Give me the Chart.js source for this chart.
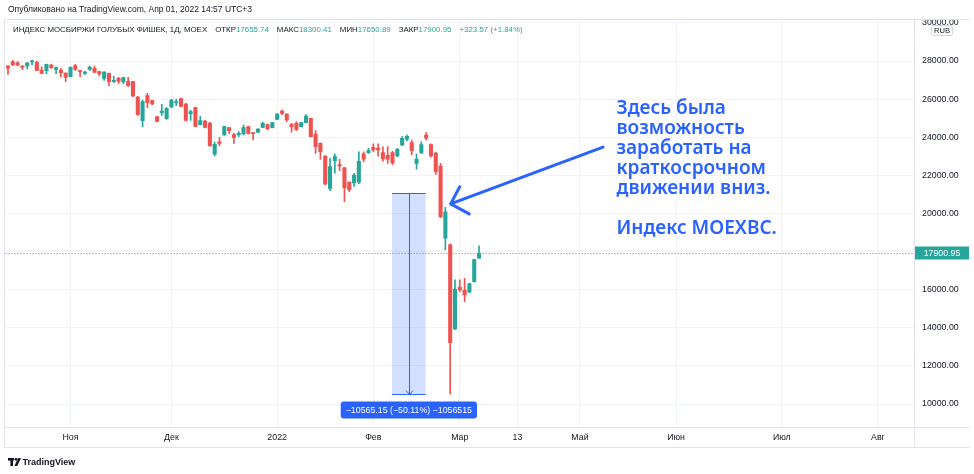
<!DOCTYPE html>
<html lang="ru">
<head>
<meta charset="utf-8">
<title>MOEXBC, 1Д</title>
<script src="https://cdn.jsdelivr.net/npm/chart.js@4.4.1/dist/chart.umd.min.js"></script>
<style>
  html, body { margin: 0; padding: 0; background: #ffffff; overflow: hidden; }
  #box { width: 974px; height: 474px; }
</style>
</head>
<body>
<div id="box"><canvas id="chart" width="974" height="474"></canvas></div>
<script>
// Daily candles of the MOEX Blue Chip index (MOEXBC), Oct 2021 – 1 Apr 2022
const openP = [
  27740, 27960, 27910, 27740, 27740, 27950, 27930, 27530, 27495, 27790,
  27565, 27530, 27370, 27180, 27755, 27495, 27355, 27565, 27615, 27440,
  27090, 27355, 26915, 27090, 26900, 26935, 26915, 26110, 24870, 26180,
  25920, 25065, 25290, 24975, 25585, 25815, 26025, 25745, 25220, 25550,
  24660, 24850, 24745, 23105, 23765, 24115, 24500, 24135, 24135, 24170,
  24555, 24220, 24260, 24520, 24660, 24500, 24940, 25375, 25220, 24695,
  24730, 24555, 24765, 24995, 24170, 23680, 23015, 21320, 22770, 22560,
  22400, 21640, 21600, 21640, 23130, 23190, 23470, 23435, 23190, 23050,
  23190, 23015, 23590, 23900, 23715, 22620, 23170, 24115, 23620, 23160,
  22490, 18700, 18350, 13940, 16125, 15985, 15865, 16420, 17655.74
];
const highP = [
  27760, 28035, 27965, 27760, 27930, 28050, 27990, 27700, 27845, 27845,
  27700, 27615, 27380, 27690, 27825, 27500, 27460, 27740, 27740, 27460,
  27440, 27360, 27215, 27145, 27160, 27145, 26935, 26145, 25955, 26305,
  25955, 25100, 25725, 25550, 25990, 25990, 26060, 25780, 25430, 25585,
  25095, 24885, 24780, 23750, 24000, 24590, 24520, 24205, 24290, 24640,
  24570, 24240, 24450, 24800, 24690, 24780, 25240, 25430, 25235, 24710,
  24815, 24780, 25185, 25010, 24345, 23700, 23040, 22895, 23120, 22840,
  22420, 21660, 22100, 23240, 23240, 23420, 23650, 23650, 23500, 23505,
  23260, 23420, 24030, 24115, 23855, 23110, 23765, 24240, 23650, 23220,
  22630, 20325, 18400, 16510, 16510, 16600, 16350, 17600, 18300.41
];
const lowP = [
  27290, 27750, 27740, 27545, 27580, 27790, 27490, 27335, 27320, 27615,
  27335, 27160, 26915, 27170, 27510, 27180, 27300, 27510, 27390, 27215,
  26985, 26700, 26865, 26810, 26810, 26670, 26130, 25150, 24535, 25550,
  25710, 24800, 25150, 24940, 25535, 25655, 25600, 24850, 24885, 24535,
  24640, 24485, 23520, 23020, 23560, 24100, 24205, 23680, 24030, 24115,
  24155, 23855, 24240, 24500, 24380, 24490, 24920, 25165, 24815, 24260,
  24345, 24540, 24760, 24010, 23155, 22840, 21495, 21195, 22110, 22245,
  20615, 21140, 21420, 21560, 22700, 23150, 23240, 23000, 22740, 22630,
  22560, 22960, 23560, 23800, 23070, 22320, 23150, 23855, 22950, 22050,
  19780, 18080, 10519.15, 13900, 15900, 15370, 15850, 16400, 17650.89
];
const closeP = [
  27630, 27790, 27790, 27670, 27895, 28015, 27510, 27355, 27825, 27650,
  27650, 27390, 27145, 27670, 27565, 27440, 27425, 27685, 27405, 27320,
  27425, 26915, 26985, 26935, 27125, 26705, 26165, 25185, 25865, 25815,
  25745, 24835, 25375, 25515, 25955, 25870, 25620, 24885, 25340, 24570,
  24870, 24520, 23555, 23630, 23680, 24555, 24345, 23975, 24205, 24500,
  24205, 24190, 24430, 24730, 24450, 24765, 25220, 25255, 24905, 24555,
  24415, 24765, 25115, 24030, 23500, 23240, 21530, 22455, 22980, 22490,
  21340, 21250, 22020, 22740, 22850, 23295, 23330, 23330, 22860, 22845,
  22650, 23370, 23945, 24045, 23295, 22850, 23620, 23945, 23015, 22190,
  19830, 20090, 13220, 16020, 15985, 15725, 16300, 17577.38, 17900.95
];

// Time scale: one slot per session, empty slots continue to the right edge
const barSlots = 189;
const timeTickAt = [13, 34, 56, 76, 94, 106, 119, 139, 161, 181];
const timeTickText = ['Ноя', 'Дек', '2022', 'Фев', 'Мар', '13', 'Май', 'Июн', 'Июл', 'Авг'];
const priceTicks = [10000, 12000, 14000, 16000, 18000, 20000, 22000, 24000, 26000, 28000, 30000];

// Price-range measurement drawn on the chart
const measure = { fromIndex: 79.9, toIndex: 86.9, top: 21084.30, bottom: 10519.15 };

// Callout
const noteLines = ['Здесь была', 'возможность', 'заработать на', 'краткосрочном', 'движении вниз.', '', 'Индекс MOEXBC.'];
const noteAt = { index: 126.6, price: 25205 };
const arrowTail = { index: 123.8, price: 23480 };
const arrowTip = { index: 92.1, price: 20500 };

const UP = '#26a69a', DOWN = '#ef5350', INK = '#131722', BLUE = '#2962ff';
const GRID = '#f0f3fa', FRAME = '#e0e3eb';
const FONT = '"Liberation Sans", Arial, sans-serif';

const idx = closeP.map((_, i) => i);
const candleColor = idx.map(i => closeP[i] >= openP[i] ? UP : DOWN);
const last = closeP.length - 1;
const lastClose = closeP[last];
const change = closeP[last] - closeP[last - 1];
const changePct = change / closeP[last - 1] * 100;

const fmt = v => v.toFixed(2);
const minus = s => s.replace('-', '\u2212');

const overlay = {
  id: 'overlay',
  beforeDraw(chart) {
    const { ctx, width, height } = chart;
    ctx.save();
    ctx.fillStyle = '#ffffff';
    ctx.fillRect(0, 0, width, height);
    ctx.restore();
  },
  beforeDatasetsDraw(chart) {
    const { ctx, chartArea: a, scales: { x, y } } = chart;
    ctx.save();
    const l = x.getPixelForValue(measure.fromIndex);
    const r = x.getPixelForValue(measure.toIndex);
    const t = Math.round(y.getPixelForValue(measure.top)) + 0.5;
    const b = Math.round(y.getPixelForValue(measure.bottom)) + 0.5;
    ctx.fillStyle = 'rgba(41, 98, 255, 0.2)';
    ctx.fillRect(l, t, r - l, b - t);
    ctx.strokeStyle = BLUE;
    ctx.lineWidth = 1;
    ctx.beginPath();
    ctx.moveTo(l, t); ctx.lineTo(r, t);
    ctx.moveTo(l, b); ctx.lineTo(r, b);
    const cx = Math.round((l + r) / 2) + 0.5;
    ctx.moveTo(cx, t); ctx.lineTo(cx, b);
    ctx.moveTo(cx - 3.5, b - 4); ctx.lineTo(cx, b); ctx.lineTo(cx + 3.5, b - 4);
    ctx.stroke();

    // last price line
    const py = Math.round(y.getPixelForValue(lastClose)) + 0.5;
    ctx.strokeStyle = UP;
    ctx.setLineDash([1, 2]);
    ctx.beginPath();
    ctx.moveTo(a.left, py); ctx.lineTo(a.right, py);
    ctx.stroke();
    ctx.restore();
  },
  afterDatasetsDraw(chart) {
    const { ctx, scales: { x, y } } = chart;
    ctx.save();
    // arrow
    const tx = x.getPixelForValue(arrowTip.index), ty = y.getPixelForValue(arrowTip.price);
    const sx = x.getPixelForValue(arrowTail.index), sy = y.getPixelForValue(arrowTail.price);
    ctx.strokeStyle = BLUE;
    ctx.lineWidth = 3;
    ctx.lineCap = 'round';
    ctx.lineJoin = 'round';
    ctx.beginPath();
    ctx.moveTo(sx, sy); ctx.lineTo(tx, ty);
    ctx.moveTo(tx + 9, ty - 17); ctx.lineTo(tx, ty); ctx.lineTo(tx + 18.5, ty + 10);
    ctx.stroke();

    // callout text
    const nx = x.getPixelForValue(noteAt.index), ny = y.getPixelForValue(noteAt.price);
    ctx.fillStyle = BLUE;
    ctx.font = '600 19px "Noto Sans", "DejaVu Sans", sans-serif';
    ctx.textAlign = 'left';
    ctx.textBaseline = 'alphabetic';
    noteLines.forEach((line, k) => { if (line) ctx.fillText(line, nx, ny + k * 19.9); });
    ctx.restore();
  },
  afterDraw(chart) {
    const { ctx, chartArea: a, scales: { x, y } } = chart;
    ctx.save();

    // frame
    ctx.strokeStyle = FRAME;
    ctx.lineWidth = 1;
    ctx.beginPath();
    ctx.moveTo(4.5, 19.5); ctx.lineTo(969.5, 19.5);
    ctx.moveTo(4.5, 19.5); ctx.lineTo(4.5, 447.5);
    ctx.moveTo(4.5, 447.5); ctx.lineTo(969.5, 447.5);
    ctx.moveTo(a.right, Math.round(a.bottom) + 0.5); ctx.lineTo(969.5, Math.round(a.bottom) + 0.5);
    ctx.moveTo(Math.round(a.right) + 0.5, a.bottom); ctx.lineTo(Math.round(a.right) + 0.5, 447.5);
    ctx.stroke();

    // last price label on the price scale
    const py = Math.round(y.getPixelForValue(lastClose));
    ctx.fillStyle = UP;
    ctx.fillRect(a.right + 1, py - 6.5, 54, 13);
    ctx.fillStyle = '#ffffff';
    ctx.font = '8.8px ' + FONT;
    ctx.textAlign = 'center';
    ctx.textBaseline = 'middle';
    ctx.fillText(fmt(lastClose), a.right + 28, py + 0.5);

    // currency badge
    ctx.fillStyle = '#ffffff';
    ctx.strokeStyle = '#d1d4dc';
    ctx.beginPath();
    ctx.roundRect(931.5, 25.5, 21, 10, 2);
    ctx.fill();
    ctx.stroke();
    ctx.fillStyle = INK;
    ctx.font = '7.6px ' + FONT;
    ctx.fillText('RUB', 942, 30.8);

    // measurement label
    const ml = x.getPixelForValue(measure.fromIndex), mr = x.getPixelForValue(measure.toIndex);
    const mb = y.getPixelForValue(measure.bottom);
    const diff = measure.bottom - measure.top;
    const mText = minus(fmt(diff)) + ' (' + minus((diff / measure.top * 100).toFixed(2)) + '%) ' + minus(String(Math.round(diff * 100)));
    ctx.font = '8.8px ' + FONT;
    const mw = ctx.measureText(mText).width + 10;
    const mcx = (ml + mr) / 2;
    ctx.fillStyle = BLUE;
    ctx.beginPath();
    ctx.roundRect(mcx - mw / 2, mb + 7.5, mw, 17, 3);
    ctx.fill();
    ctx.fillStyle = '#ffffff';
    ctx.fillText(mText, mcx, mb + 16.5);

    // header
    ctx.textAlign = 'left';
    ctx.textBaseline = 'middle';
    ctx.fillStyle = INK;
    ctx.font = '8.5px ' + FONT;
    ctx.fillText('Опубликовано на TradingView.com, Апр 01, 2022 14:57 UTC+3', 8, 10);

    // legend
    const parts = [
      ['ИНДЕКС МОСБИРЖИ ГОЛУБЫХ ФИШЕК, 1Д, MOEX', null],
      ['ОТКР', fmt(openP[last])],
      ['МАКС', fmt(highP[last])],
      ['МИН', fmt(lowP[last])],
      ['ЗАКР', fmt(closeP[last])],
      [null, (change >= 0 ? '+' : '') + fmt(change) + ' (' + (change >= 0 ? '+' : '') + changePct.toFixed(2) + '%)']
    ];
    ctx.font = '7.9px ' + FONT;
    let lx = 13;
    const ly = 29.5;
    const valColor = change >= 0 ? UP : DOWN;
    parts.forEach(([label, val]) => {
      if (label) { ctx.fillStyle = INK; ctx.fillText(label, lx, ly); lx += ctx.measureText(label).width; }
      if (val) { ctx.fillStyle = valColor; ctx.fillText(val, lx, ly); lx += ctx.measureText(val).width; }
      lx += 8;
    });

    // brand mark
    ctx.fillStyle = INK;
    ctx.fillRect(8, 458, 6, 2.6);
    ctx.fillRect(10.4, 458, 2.6, 8);
    ctx.beginPath();
    ctx.arc(16, 459.3, 1.4, 0, Math.PI * 2);
    ctx.fill();
    ctx.beginPath();
    ctx.moveTo(18.2, 458); ctx.lineTo(21, 458); ctx.lineTo(17.2, 466); ctx.lineTo(14.4, 466);
    ctx.closePath();
    ctx.fill();
    ctx.font = 'bold 9px ' + FONT;
    ctx.fillText('TradingView', 22.5, 462.5);
    ctx.restore();
  }
};

new Chart(document.getElementById('chart'), {
  type: 'bar',
  data: {
    datasets: [
      {
        label: 'wick',
        data: idx.map(i => ({ x: i, y: [lowP[i], highP[i]] })),
        backgroundColor: candleColor,
        barThickness: 1,
        grouped: false,
        borderWidth: 0,
        borderSkipped: false,
        order: 2
      },
      {
        label: 'body',
        data: idx.map(i => ({ x: i, y: [openP[i], closeP[i]] })),
        backgroundColor: candleColor,
        barThickness: 3.4,
        minBarLength: 1,
        grouped: false,
        borderWidth: 0,
        borderSkipped: false,
        order: 1
      }
    ]
  },
  options: {
    responsive: false,
    animation: false,
    devicePixelRatio: 1,
    layout: { padding: { left: 5.6, right: 0, top: 20, bottom: 27 } },
    plugins: { legend: { display: false }, tooltip: { enabled: false }, title: { display: false } },
    scales: {
      x: {
        type: 'linear',
        min: -0.5,
        max: barSlots - 0.5,
        offset: false,
        afterBuildTicks: s => { s.ticks = timeTickAt.map(v => ({ value: v })); },
        afterFit: s => { s.height = 20; },
        grid: { color: GRID, drawTicks: false, offset: false },
        border: { display: true, color: FRAME },
        ticks: {
          autoSkip: false, maxRotation: 0, padding: 5, color: INK,
          font: { family: FONT, size: 8.8 },
          callback: (v, i) => timeTickText[i]
        }
      },
      y: {
        position: 'right',
        min: 8793,
        max: 30152,
        afterBuildTicks: s => { s.ticks = priceTicks.map(v => ({ value: v })); },
        afterFit: s => { s.width = 60; },
        grid: { color: GRID, drawTicks: false },
        border: { display: true, color: FRAME },
        ticks: {
          padding: 8, color: INK,
          font: { family: FONT, size: 8.8 },
          callback: v => fmt(Number(v))
        }
      }
    }
  },
  plugins: [overlay]
});
</script>
</body>
</html>
